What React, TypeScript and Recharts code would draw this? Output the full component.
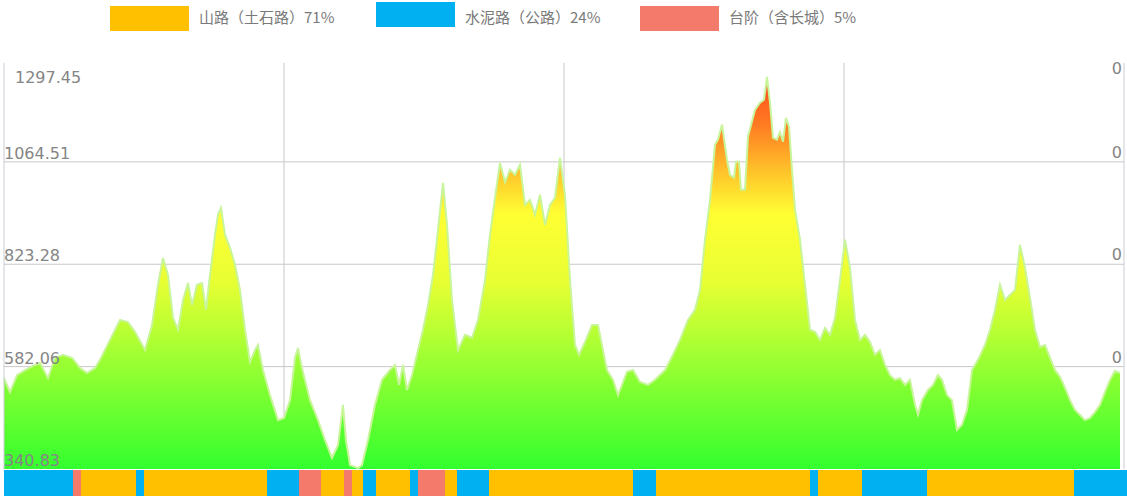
import React from 'react';
import {
  AreaChart,
  Area,
  XAxis,
  YAxis,
  CartesianGrid,
  BarChart,
  Bar,
} from 'recharts';

// distance along the route (m) and elevation (m)
const distances = [
  0, 150, 325, 525, 725, 900, 1100, 1275, 1475, 1700, 1900, 2075, 2275, 2400, 2650, 2900,
  3100, 3275, 3525, 3700, 3850, 3975, 4100, 4225, 4350, 4475, 4600, 4700, 4825, 4950, 5050,
  5150, 5275, 5350, 5425, 5525, 5650, 5775, 5900, 6025, 6150, 6275, 6350, 6475, 6650, 6850,
  7000, 7150, 7275, 7350, 7450, 7650, 7850, 8025, 8200, 8350, 8475, 8550, 8650, 8850, 8950,
  9100, 9275, 9450, 9650, 9775, 9875, 9975, 10075, 10200, 10350, 10475, 10600, 10725, 10850,
  10975, 11075, 11200, 11350, 11525, 11700, 11850, 12025, 12150, 12275, 12400, 12525, 12650,
  12775, 12900, 13025, 13150, 13275, 13400, 13525, 13650, 13775, 13900, 14025, 14150, 14275,
  14375, 14525, 14700, 14850, 14975, 15075, 15225, 15350, 15450, 15575, 15725, 15900, 16100,
  16275, 16525, 16725, 16900, 17100, 17275, 17400, 17525, 17650, 17775, 17850, 17950, 18075,
  18150, 18250, 18300, 18375, 18425, 18525, 18600, 18775, 18900, 19000, 19075, 19150, 19225,
  19325, 19400, 19475, 19550, 19625, 19700, 19775, 19900, 20025, 20150, 20275, 20400, 20525,
  20650, 20775, 20900, 21025, 21150, 21275, 21400, 21525, 21650, 21775, 21900, 22025, 22150,
  22275, 22400, 22525, 22650, 22775, 22850, 22950, 23100, 23225, 23350, 23450, 23575, 23700,
  23825, 23950, 24075, 24200, 24350, 24525, 24650, 24775, 24900, 25025, 25150, 25275, 25400,
  25525, 25650, 25775, 25900, 26025, 26150, 26275, 26400, 26525, 26650, 26775, 26900, 27025,
  27150, 27275, 27400, 27525, 27650, 27775, 27900,
];

const elevations = [
  555, 522, 562, 574, 584, 591, 555, 603, 610, 603, 579, 567, 579, 598, 645, 692,
  687, 664, 621, 680, 775, 838, 798, 697, 669, 739, 779, 727, 775, 779, 716,
  798, 893, 940, 956, 893, 862, 822, 763, 669, 593, 621, 633, 574, 515, 456,
  461, 503, 603, 626, 579, 503, 456, 409, 367, 397, 492, 409, 350, 343, 350,
  409, 492, 551, 574, 586, 539, 586, 527, 562, 621, 669, 727, 798, 904,
  1015, 916, 739, 621, 657, 650, 692, 786, 893, 980, 1062, 1017, 1046,
  1034, 1058, 963, 975, 940, 987, 916, 963, 980, 1074, 987, 786, 633,
  610, 640, 680, 680, 621, 574, 551, 515, 539, 570, 574, 546, 539,
  551, 574, 610, 645, 692, 716, 763, 881, 975, 1105, 1117, 1152, 1069,
  1034, 1027, 1065, 1065, 999, 999, 1124, 1187, 1204, 1211, 1265, 1204, 1121,
  1117, 1135, 1112, 1168, 1147, 1046, 952, 881, 775, 669, 664, 645, 673,
  657, 697, 786, 881, 815, 692, 645, 657, 640, 610, 621, 586, 562,
  551, 555, 539, 551, 492, 469, 503, 527, 539, 562, 551, 515, 503,
  433, 445, 480, 574, 598, 633, 669, 716, 775, 739, 751, 763, 869,
  815, 744, 669, 628, 633, 603, 574, 558, 532, 503, 480, 468, 456,
  461, 475, 492, 522, 551, 572, 567,
];

const elevTicks = [340.83, 582.06, 823.28, 1064.51, 1297.45];
const gridValues = [582.06, 823.28, 1064.51];
const distanceGrid = [7000, 14000, 21000];
const totalDistance = 28000;

// road surface along the route
const roadBreaks = [
  0, 1725, 1925, 3300, 3500, 6575, 7375, 7925, 8500, 8700, 8975, 9300, 10150, 10350,
  11025, 11325, 12125, 15725, 16300, 20150, 20350, 21450, 23075, 26750, 28075,
];
const roadTypes = [
  'cement', 'stairs', 'mountain', 'cement', 'mountain', 'cement', 'stairs', 'mountain',
  'stairs', 'mountain', 'cement', 'mountain', 'cement', 'stairs', 'mountain', 'cement',
  'mountain', 'cement', 'mountain', 'cement', 'mountain', 'cement', 'mountain', 'cement',
];

const legendLabels = ['山路（土石路）71%', '水泥路（公路）24%', '台阶（含长城）5%'];
const legendKeys = ['mountain', 'cement', 'stairs'];

const ROAD_COLORS: Record<string, string> = {
  mountain: '#FFC000',
  cement: '#00B0F0',
  stairs: '#F47A6B',
};

const profile = distances.map((d, i) => ({ d, e: elevations[i] }));

const stripRow: Record<string, number | string> = { name: 'road' };
roadTypes.forEach((_, i) => {
  stripRow[`s${i}`] = roadBreaks[i + 1] - roadBreaks[i];
});

const TOP_VALUE = elevTicks[elevTicks.length - 1];
const axisFont = '"DejaVu Sans", sans-serif';

function LeftTick(props: any) {
  const { y, payload } = props;
  const top = payload.value === TOP_VALUE;
  return (
    <text
      x={top ? 15 : 4}
      y={top ? y + 20 : y - 3}
      fill="#858585"
      fontSize={16}
      fontFamily={axisFont}
      textAnchor="start"
    >
      {payload.value.toFixed(2)}
    </text>
  );
}

function RightTick(props: any) {
  const { y, payload } = props;
  const top = payload.value === TOP_VALUE;
  return (
    <text
      x={1122}
      y={top ? y + 11 : y - 4}
      fill="#858585"
      fontSize={16}
      fontFamily={axisFont}
      textAnchor="end"
    >
      0
    </text>
  );
}

const legendLeft = [110, 376, 640];
const legendTop = [6, 2, 6];

function Legend() {
  return (
    <>
      {legendLabels.map((label, i) => (
        <div key={label}>
          <div
            style={{
              position: 'absolute',
              left: legendLeft[i],
              top: legendTop[i],
              width: 79,
              height: 25,
              background: ROAD_COLORS[legendKeys[i]],
            }}
          />
          <div
            style={{
              position: 'absolute',
              left: legendLeft[i] + 89,
              top: 7,
              fontSize: 15,
              lineHeight: '20px',
              color: '#7a7a7a',
              fontFamily: '"Noto Sans CJK SC", "Liberation Sans", sans-serif',
              whiteSpace: 'nowrap',
            }}
          >
            {label}
          </div>
        </div>
      ))}
    </>
  );
}

export default function App() {
  return (
    <div
      style={{
        position: 'absolute',
        left: 0,
        top: 0,
        width: 1127,
        height: 498,
        background: '#fff',
        overflow: 'hidden',
      }}
    >
      <Legend />
      <div style={{ position: 'absolute', left: 0, top: 0 }}>
        <AreaChart
          width={1127}
          height={470}
          data={profile}
          margin={{ top: 63, right: 2, bottom: 1, left: 3 }}
        >
          <defs>
            <linearGradient id="elevFill" x1="0" y1="0" x2="0" y2="1">
              <stop offset="0%" stopColor="#ff4a1f" />
              <stop offset="12%" stopColor="#ff7a22" />
              <stop offset="24%" stopColor="#ffc22a" />
              <stop offset="35%" stopColor="#ffff33" />
              <stop offset="52%" stopColor="#e8ff33" />
              <stop offset="72%" stopColor="#9dff33" />
              <stop offset="100%" stopColor="#33ff2e" />
            </linearGradient>
          </defs>
          <CartesianGrid
            yAxisId="left"
            stroke="#c8c8c8"
            horizontalValues={gridValues}
            verticalValues={distanceGrid}
          />
          <XAxis
            dataKey="d"
            type="number"
            domain={[0, totalDistance]}
            ticks={distanceGrid}
            hide
          />
          <YAxis
            yAxisId="left"
            type="number"
            domain={[elevTicks[0], TOP_VALUE]}
            ticks={elevTicks}
            width={1}
            allowDataOverflow
            axisLine={{ stroke: '#c9ccd3' }}
            tickLine={false}
            tick={LeftTick}
            interval={0}
          />
          <YAxis
            yAxisId="right"
            orientation="right"
            type="number"
            domain={[elevTicks[0], TOP_VALUE]}
            ticks={elevTicks.slice(1)}
            width={1}
            allowDataOverflow
            axisLine={{ stroke: '#c9ccd3' }}
            tickLine={false}
            tick={RightTick}
            interval={0}
          />
          <Area
            yAxisId="left"
            type="linear"
            dataKey="e"
            stroke="#c9f59a"
            strokeWidth={2}
            fill="url(#elevFill)"
            fillOpacity={1}
            dot={false}
            activeDot={false}
            isAnimationActive={false}
          />
        </AreaChart>
      </div>
      <div style={{ position: 'absolute', left: 4, top: 470 }}>
        <BarChart
          width={1123}
          height={26}
          data={[stripRow]}
          layout="vertical"
          margin={{ top: 0, right: 0, bottom: 0, left: 0 }}
          barCategoryGap={0}
        >
          <XAxis type="number" domain={[0, roadBreaks[roadBreaks.length - 1]]} hide />
          <YAxis type="category" dataKey="name" hide />
          {roadTypes.map((t, i) => (
            <Bar
              key={i}
              dataKey={`s${i}`}
              stackId="road"
              fill={ROAD_COLORS[t]}
              isAnimationActive={false}
            />
          ))}
        </BarChart>
      </div>
    </div>
  );
}
